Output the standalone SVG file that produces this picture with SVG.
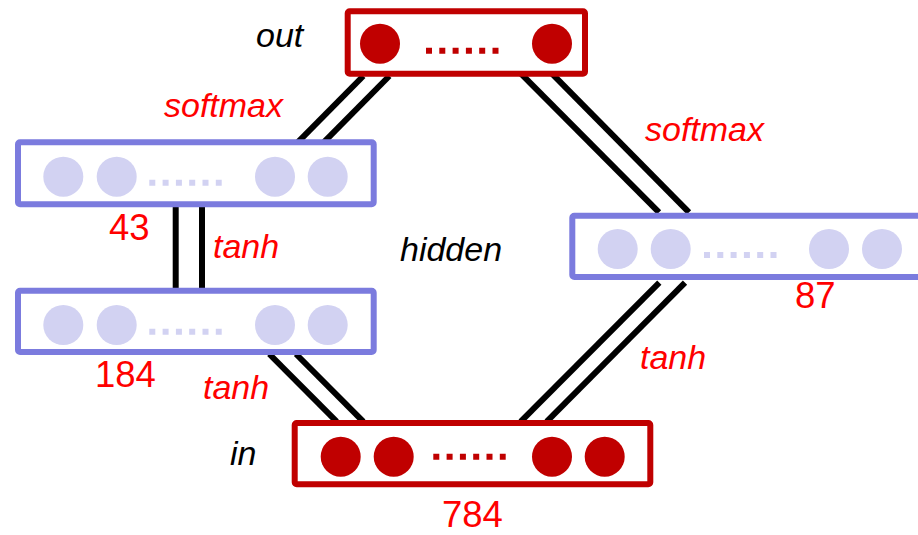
<svg xmlns="http://www.w3.org/2000/svg" width="918" height="535" viewBox="0 0 918 535">
<style>
.rbox{fill:#fff;stroke:#C00000;stroke-width:6}
.bbox{fill:#fff;stroke:#7B7BDE;stroke-width:6}
.rc{fill:#C00000}
.bc{fill:#D2D2F2}
.rd{stroke:#C00000;stroke-width:6;stroke-dasharray:6 7.3}
.bd{stroke:#D2D2F2;stroke-width:6;stroke-dasharray:6 7.3}
.conn line{stroke:#000;stroke-width:6}
text{font-family:"Liberation Sans",Arial,sans-serif;font-size:34px}
.it{font-style:italic}
.red{fill:#FF0000}
.num{font-size:36.5px}
</style>
<g id="connectors" class="conn">
<line x1="363.3" y1="76" x2="296.7" y2="143.3"/>
<line x1="389.3" y1="76" x2="322.7" y2="143.3"/>
<line x1="520.7" y1="73.3" x2="659" y2="212.3"/>
<line x1="551.7" y1="73.3" x2="689" y2="212.3"/>
<line x1="175.7" y1="205" x2="175.7" y2="290"/>
<line x1="202" y1="205" x2="202" y2="290"/>
<line x1="269.3" y1="354" x2="336.7" y2="421.7"/>
<line x1="296" y1="354" x2="363.3" y2="421.7"/>
<line x1="659.3" y1="282.7" x2="520.7" y2="421.7"/>
<line x1="685" y1="282.7" x2="546.7" y2="421.7"/>
</g>
<g id="out">
<rect class="rbox" x="347.7" y="11.3" width="237.3" height="62.4" rx="2"/>
<circle class="rc" cx="380" cy="43.7" r="20"/>
<circle class="rc" cx="552" cy="43.7" r="20"/>
<line class="rd" x1="426" y1="50.7" x2="499" y2="50.7"/>
</g>
<g id="hidden1">
<rect class="bbox" x="18" y="142.3" width="355.7" height="62" rx="2"/>
<circle class="bc" cx="63.3" cy="176.7" r="20"/>
<circle class="bc" cx="116.7" cy="176.7" r="20"/>
<circle class="bc" cx="275" cy="176.7" r="20"/>
<circle class="bc" cx="327.7" cy="176.7" r="20"/>
<line class="bd" x1="149.3" y1="182.7" x2="221.7" y2="182.7"/>
</g>
<g id="hidden2">
<rect class="bbox" x="18" y="290.7" width="355.7" height="61.3" rx="2"/>
<circle class="bc" cx="63.3" cy="325" r="20"/>
<circle class="bc" cx="116.7" cy="325" r="20"/>
<circle class="bc" cx="275" cy="325" r="20"/>
<circle class="bc" cx="327.7" cy="325" r="20"/>
<line class="bd" x1="149.3" y1="331.7" x2="221.7" y2="331.7"/>
</g>
<g id="hidden3">
<rect class="bbox" x="572.3" y="215.7" width="360" height="61.3" rx="2"/>
<circle class="bc" cx="617.7" cy="249" r="20"/>
<circle class="bc" cx="670.7" cy="249" r="20"/>
<circle class="bc" cx="829" cy="249" r="20"/>
<circle class="bc" cx="882" cy="249" r="20"/>
<line class="bd" x1="704" y1="255" x2="776.7" y2="255"/>
</g>
<g id="in">
<rect class="rbox" x="294.7" y="423" width="355.6" height="61.3" rx="2"/>
<circle class="rc" cx="340.7" cy="456.7" r="20"/>
<circle class="rc" cx="393.7" cy="456.7" r="20"/>
<circle class="rc" cx="552" cy="456.7" r="20"/>
<circle class="rc" cx="604.7" cy="456.7" r="20"/>
<line class="rd" x1="433.3" y1="456.7" x2="505.7" y2="456.7"/>
</g>
<g id="labels">
<text class="it" x="256" y="46.7">out</text>
<text class="it red" x="164" y="117.3">softmax</text>
<text class="it red" x="645" y="141">softmax</text>
<text class="red num" x="109" y="240">43</text>
<text class="it red" x="213" y="257.7">tanh</text>
<text class="it" x="400" y="261">hidden</text>
<text class="red num" x="795" y="308">87</text>
<text class="red num" x="95" y="387">184</text>
<text class="it red" x="203" y="399.3">tanh</text>
<text class="it red" x="640" y="369.3">tanh</text>
<text class="it" x="230" y="465">in</text>
<text class="red num" x="442" y="526.7">784</text>
</g>
</svg>
